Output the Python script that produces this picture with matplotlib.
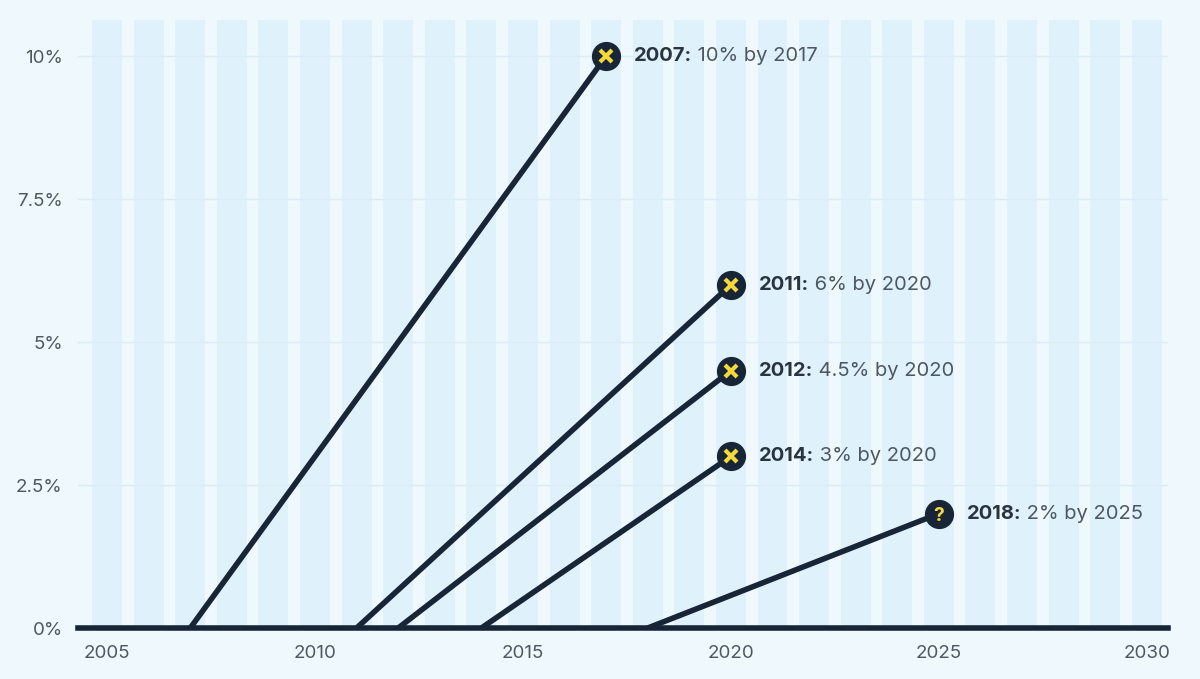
import matplotlib.pyplot as plt
from matplotlib.ticker import FixedLocator

# announced target: year announced, target year, target share (%)
announced = [2007, 2011, 2012, 2014, 2018]
target_year = [2017, 2020, 2020, 2020, 2025]
target_pct = [10, 6, 4.5, 3, 2]
status = ["x", "x", "x", "x", "?"]
labels_bold = ["2007:", "2011:", "2012:", "2014:", "2018:"]
labels_rest = [" 10% by 2017", " 6% by 2020", " 4.5% by 2020", " 3% by 2020", " 2% by 2025"]

y_ticks = [0, 2.5, 5, 7.5, 10]
y_ticklabels = ["0%", "2.5%", "5%", "7.5%", "10%"]
x_ticks = [2005, 2010, 2015, 2020, 2025, 2030]

BG = "#eef8fd"
STRIPE = "#dff1fa"
NAVY = "#172536"
YELLOW = "#f4d83c"
GREY = "#4d5862"

plt.rcParams["font.family"] = ["Inter", "DejaVu Sans"]

fig = plt.figure(figsize=(12, 6.79), dpi=100, facecolor=BG)
ax = fig.add_axes([0.065, 0.0751, 0.908, 0.8954])
ax.set_facecolor(BG)
ax.set_xlim(2004.3, 2030.5)
ax.set_ylim(0, 10.63)

# year stripes
for yr in range(2005, 2031):
    ax.axvspan(yr - 0.36, yr + 0.36, color=STRIPE, lw=0, zorder=0)

for y in y_ticks:
    ax.axhline(y, color="#dcecf4", lw=1, zorder=0.5)

for x0, x1, y1, st, lb, lr in zip(announced, target_year, target_pct,
                                  status, labels_bold, labels_rest):
    ax.plot([x0, x1], [0, y1], color=NAVY, lw=4, solid_capstyle="round",
            zorder=3)
    ax.plot(x1, y1, "o", ms=20, color=NAVY, zorder=4, clip_on=False)
    if st == "x":
        ax.plot(x1, y1, "x", ms=8, mew=3, color=YELLOW, zorder=5, clip_on=False)
    else:
        ax.text(x1, y1, "?", color=YELLOW, fontsize=14, fontweight="bold",
                ha="center", va="center_baseline", zorder=5)
    t = ax.annotate(lb, xy=(x1, y1), xytext=(20, 0), textcoords="offset points",
                    fontsize=14.5, fontweight="bold", color="#2a3440",
                    va="center", ha="left", zorder=5)
    ax.annotate(lr, xy=(1, 0.5), xycoords=t, fontsize=14.5, color=GREY,
                va="center", ha="left", zorder=5)

for s in ["top", "right", "left"]:
    ax.spines[s].set_visible(False)
ax.spines["bottom"].set_color(NAVY)
ax.spines["bottom"].set_linewidth(4)
ax.spines["bottom"].set_zorder(6)

ax.yaxis.set_major_locator(FixedLocator(y_ticks))
ax.set_yticklabels(y_ticklabels)
ax.set_xticks(x_ticks)
ax.set_xticklabels([str(x) for x in x_ticks])
ax.tick_params(axis="both", length=0, labelsize=13.5, labelcolor=GREY)
ax.tick_params(axis="y", pad=11)
ax.tick_params(axis="x", pad=12)

fig.savefig("out.png", dpi=100, facecolor=BG)
